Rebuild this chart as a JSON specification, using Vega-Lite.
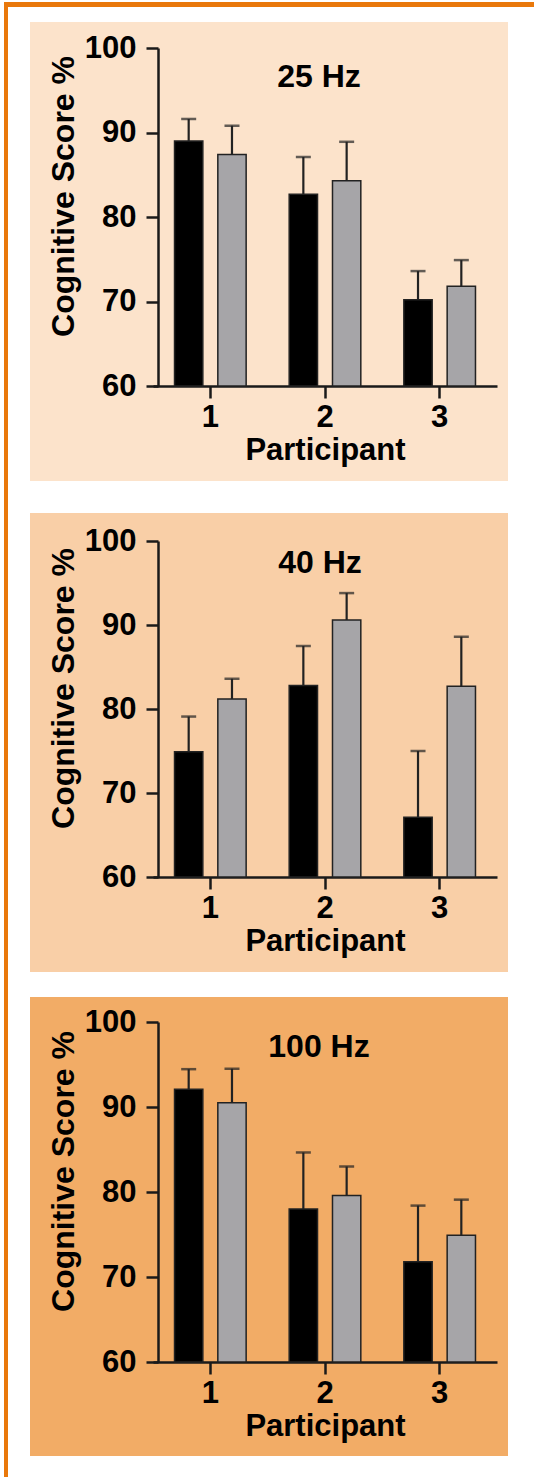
{
  "$schema": "https://vega.github.io/schema/vega-lite/v6.json",
  "padding": {"left": 4, "top": 2, "right": 0, "bottom": 0},
  "background": "white",
  "bounds": "flush",
  "config": {
    "view": {"stroke": null},
    "font": "Liberation Sans",
    "axis": {
      "grid": false,
      "labelFont": "Liberation Sans",
      "labelFontWeight": "bold",
      "labelFontSize": 31,
      "labelColor": "#000000",
      "titleFont": "Liberation Sans",
      "titleFontWeight": "bold",
      "titleColor": "#000000",
      "tickSize": 12,
      "tickWidth": 2.5,
      "tickColor": "#1a1a1a",
      "domainColor": "#1a1a1a",
      "domainWidth": 2.5
    }
  },
  "spacing": 0,
  "hconcat": [
    {
      "width": 4,
      "height": 1475,
      "view": {"fill": "#e9780b", "stroke": null},
      "data": {"values": [{}]},
      "mark": {"type": "point", "opacity": 0, "size": 0},
      "encoding": {}
    },
    {
      "spacing": 15,
      "bounds": "flush",
      "vconcat": [
        {
          "width": 526,
          "height": 5,
          "view": {"fill": "#e9780b", "stroke": null},
          "data": {"values": [{}]},
          "mark": {"type": "point", "opacity": 0, "size": 0},
          "encoding": {}
        },
        {
          "spacing": 21,
          "bounds": "flush",
          "hconcat": [
            {
              "width": 1,
              "height": 1,
              "data": {"values": [{}]},
              "mark": {"type": "point", "opacity": 0, "size": 0},
              "encoding": {}
            },
            {
              "spacing": 32,
              "bounds": "flush",
              "vconcat": [
                {
                  "width": 478,
                  "height": 459,
                  "view": {"fill": "#fce3cb", "stroke": null},
                  "data": {"values": [
                    {"participant": 1, "group": "Group A", "mean": 89.0, "upper": 91.6},
                    {"participant": 1, "group": "Group B", "mean": 87.4, "upper": 90.8},
                    {"participant": 2, "group": "Group A", "mean": 82.7, "upper": 87.1},
                    {"participant": 2, "group": "Group B", "mean": 84.3, "upper": 88.9},
                    {"participant": 3, "group": "Group A", "mean": 70.2, "upper": 73.6},
                    {"participant": 3, "group": "Group B", "mean": 71.8, "upper": 74.9}
                  ]},
                  "encoding": {
                    "x": {"field": "participant", "type": "ordinal",
                      "scale": {"range": [123, 467], "paddingInner": 0, "paddingOuter": 0},
                      "axis": {"title": "Participant", "orient": "bottom", "offset": -95, "labelAngle": 0, "labelPadding": 4, "titleFontSize": 31, "titlePadding": 3}},
                    "xOffset": {"field": "group", "type": "nominal", "scale": {"paddingInner": 0.346, "paddingOuter": 0.497}}
                  },
                  "layer": [
                    {
                      "mark": {"type": "bar", "stroke": "#222222", "strokeWidth": 1.5},
                      "encoding": {
                        "y": {"field": "mean", "type": "quantitative",
                          "scale": {"domain": [60, 100], "range": [364, 26], "nice": false, "zero": false},
                          "axis": {"title": "Cognitive Score %", "orient": "left", "offset": -128, "values": [60, 70, 80, 90, 100], "labelPadding": 10, "titleFontSize": 32, "titlePadding": 4, "titleY": 174}},
                        "y2": {"datum": 60},
                        "fill": {"field": "group", "type": "nominal", "scale": {"domain": ["Group A", "Group B"], "range": ["#000000", "#a6a5a8"]}, "legend": null}
                      }
                    },
                    {
                      "mark": {"type": "rule", "color": "#222222", "strokeWidth": 2.2},
                      "encoding": {
                        "y": {"field": "mean", "type": "quantitative"},
                        "y2": {"field": "upper"}
                      }
                    },
                    {
                      "mark": {"type": "tick", "color": "#222222", "thickness": 2.5, "size": 15},
                      "encoding": {
                        "y": {"field": "upper", "type": "quantitative"}
                      }
                    },
                    {
                      "data": {"values": [{"label": "25 Hz"}]},
                      "mark": {"type": "text", "fontSize": 32, "fontWeight": "bold", "font": "Liberation Sans", "align": "center", "baseline": "alphabetic", "dx": -6, "color": "#000000"},
                      "encoding": {
                        "x": {"datum": 2},
                        "xOffset": null,
                        "y": {"datum": 95.4},
                        "text": {"field": "label"}
                      }
                    }
                  ]
                },
                {
                  "spacing": 25,
                  "bounds": "flush",
                  "vconcat": [
                    {
                      "width": 478,
                      "height": 459,
                      "view": {"fill": "#f9cfa7", "stroke": null},
                      "data": {"values": [
                        {"participant": 1, "group": "Group A", "mean": 74.9, "upper": 79.1},
                        {"participant": 1, "group": "Group B", "mean": 81.2, "upper": 83.6},
                        {"participant": 2, "group": "Group A", "mean": 82.8, "upper": 87.5},
                        {"participant": 2, "group": "Group B", "mean": 90.6, "upper": 93.8},
                        {"participant": 3, "group": "Group A", "mean": 67.1, "upper": 75.0},
                        {"participant": 3, "group": "Group B", "mean": 82.7, "upper": 88.6}
                      ]},
                      "encoding": {
                        "x": {"field": "participant", "type": "ordinal",
                          "scale": {"range": [123, 467], "paddingInner": 0, "paddingOuter": 0},
                          "axis": {"title": "Participant", "orient": "bottom", "offset": -95, "labelAngle": 0, "labelPadding": 4, "titleFontSize": 31, "titlePadding": 3}},
                        "xOffset": {"field": "group", "type": "nominal", "scale": {"paddingInner": 0.346, "paddingOuter": 0.497}}
                      },
                      "layer": [
                        {
                          "mark": {"type": "bar", "stroke": "#222222", "strokeWidth": 1.5},
                          "encoding": {
                            "y": {"field": "mean", "type": "quantitative",
                              "scale": {"domain": [60, 100], "range": [364, 28], "nice": false, "zero": false},
                              "axis": {"title": "Cognitive Score %", "orient": "left", "offset": -128, "values": [60, 70, 80, 90, 100], "labelPadding": 10, "titleFontSize": 32, "titlePadding": 4, "titleY": 175}},
                            "y2": {"datum": 60},
                            "fill": {"field": "group", "type": "nominal", "scale": {"domain": ["Group A", "Group B"], "range": ["#000000", "#a6a5a8"]}, "legend": null}
                          }
                        },
                        {
                          "mark": {"type": "rule", "color": "#222222", "strokeWidth": 2.2},
                          "encoding": {
                            "y": {"field": "mean", "type": "quantitative"},
                            "y2": {"field": "upper"}
                          }
                        },
                        {
                          "mark": {"type": "tick", "color": "#222222", "thickness": 2.5, "size": 15},
                          "encoding": {
                            "y": {"field": "upper", "type": "quantitative"}
                          }
                        },
                        {
                          "data": {"values": [{"label": "40 Hz"}]},
                          "mark": {"type": "text", "fontSize": 32, "fontWeight": "bold", "font": "Liberation Sans", "align": "center", "baseline": "alphabetic", "dx": -5, "color": "#000000"},
                          "encoding": {
                            "x": {"datum": 2},
                            "xOffset": null,
                            "y": {"datum": 96.2},
                            "text": {"field": "label"}
                          }
                        }
                      ]
                    },
                    {
                      "width": 478,
                      "height": 459,
                      "view": {"fill": "#f2ac66", "stroke": null},
                      "data": {"values": [
                        {"participant": 1, "group": "Group A", "mean": 92.1, "upper": 94.45},
                        {"participant": 1, "group": "Group B", "mean": 90.5, "upper": 94.5},
                        {"participant": 2, "group": "Group A", "mean": 78.0, "upper": 84.65},
                        {"participant": 2, "group": "Group B", "mean": 79.6, "upper": 83.0},
                        {"participant": 3, "group": "Group A", "mean": 71.8, "upper": 78.4},
                        {"participant": 3, "group": "Group B", "mean": 74.9, "upper": 79.1}
                      ]},
                      "encoding": {
                        "x": {"field": "participant", "type": "ordinal",
                          "scale": {"range": [123, 467], "paddingInner": 0, "paddingOuter": 0},
                          "axis": {"title": "Participant", "orient": "bottom", "offset": -94, "labelAngle": 0, "labelPadding": 4, "titleFontSize": 31, "titlePadding": 3}},
                        "xOffset": {"field": "group", "type": "nominal", "scale": {"paddingInner": 0.346, "paddingOuter": 0.497}}
                      },
                      "layer": [
                        {
                          "mark": {"type": "bar", "stroke": "#222222", "strokeWidth": 1.5},
                          "encoding": {
                            "y": {"field": "mean", "type": "quantitative",
                              "scale": {"domain": [60, 100], "range": [365, 25], "nice": false, "zero": false},
                              "axis": {"title": "Cognitive Score %", "orient": "left", "offset": -128, "values": [60, 70, 80, 90, 100], "labelPadding": 10, "titleFontSize": 32, "titlePadding": 4, "titleY": 174}},
                            "y2": {"datum": 60},
                            "fill": {"field": "group", "type": "nominal", "scale": {"domain": ["Group A", "Group B"], "range": ["#000000", "#a6a5a8"]}, "legend": null}
                          }
                        },
                        {
                          "mark": {"type": "rule", "color": "#222222", "strokeWidth": 2.2},
                          "encoding": {
                            "y": {"field": "mean", "type": "quantitative"},
                            "y2": {"field": "upper"}
                          }
                        },
                        {
                          "mark": {"type": "tick", "color": "#222222", "thickness": 2.5, "size": 15},
                          "encoding": {
                            "y": {"field": "upper", "type": "quantitative"}
                          }
                        },
                        {
                          "data": {"values": [{"label": "100 Hz"}]},
                          "mark": {"type": "text", "fontSize": 32, "fontWeight": "bold", "font": "Liberation Sans", "align": "center", "baseline": "alphabetic", "dx": -6, "color": "#000000"},
                          "encoding": {
                            "x": {"datum": 2},
                            "xOffset": null,
                            "y": {"datum": 95.9},
                            "text": {"field": "label"}
                          }
                        }
                      ]
                    }
                  ]
                }
              ]
            }
          ]
        }
      ]
    }
  ]
}
